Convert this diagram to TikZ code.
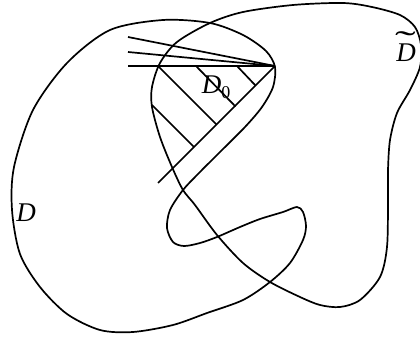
\documentclass[tikz,border=0pt]{standalone}
\usepackage{fontspec}
\usepackage{graphicx}
\setmainfont{Liberation Serif}
\begin{document}
\begin{tikzpicture}[x=1pt,y=-1pt,
  curve/.style={line width=1.7pt,line join=round},
  ray/.style={line width=1.7pt},
  lbl/.style={font=\fontsize{27}{30}\selectfont\itshape,inner sep=0pt}]
\useasboundingbox (0,0) rectangle (420,337);
\clip (0,0) rectangle (420,337);
% region D
\draw[curve] plot[smooth cycle,tension=0.5] coordinates {
 (163,20) (210,23) (243,35) (266,51) (275,67) (273,87) (262,107)
 (245,127) (220,152) (198,174) (183,190) (170,210) (167,228) (173,242)
 (184,246) (200,243) (217,237) (240,227) (260,219) (283,212) (297,207)
 (303,212) (306,226) (303,240) (290,263) (270,282) (243,300) (207,313)
 (173,325) (133,332) (100,330) (67,314) (40,287) (20,254) (12,210)
 (14,167) (33,110) (67,63) (110,30)};
% region D tilde
\draw[curve] plot[smooth cycle,tension=0.5] coordinates {
 (210,23) (243,12) (293,5) (343,3) (372,7) (400,15) (415,27) (421,45)
 (420,67) (410,90) (397,113) (390,140) (388,170) (388,200) (387,247)
 (380,277) (360,300) (340,307) (320,305) (300,297) (270,282) (243,263)
 (217,235) (195,205) (183,190) (172,167) (160,137) (152,107) (152,87)
 (160,63) (177,42)};
% rays
\coordinate (A) at (275,66);
\coordinate (r1) at (128,37);
\coordinate (r2) at (128,52);
\coordinate (r3) at (128,66);
\coordinate (e) at (158,183);
\draw[ray] (A) -- (r1);
\draw[ray] (A) -- (r2);
\draw[ray] (A) -- (r3);
\draw[ray] (A) -- (e);
% hatching
\coordinate (h1a) at (237,66); \coordinate (h1b) at (255.5,85.5);
\coordinate (h2a) at (196,66); \coordinate (h2b) at (235.5,106.5);
\coordinate (h3a) at (158,66); \coordinate (h3b) at (216.5,124.5);
\coordinate (h4a) at (152,105); \coordinate (h4b) at (194,147);
\draw[ray] (h1a) -- (h1b);
\draw[ray] (h2a) -- (h2b);
\draw[ray] (h3a) -- (h3b);
\draw[ray] (h4a) -- (h4b);
% labels
\node[lbl] (D) at (26,213) {D};
\node[lbl] (D0) at (216,87) {D\raisebox{-5pt}{\upshape\fontsize{18}{18}\selectfont 0}};
\node[lbl,anchor=base] (Dt) at (406,61) {D\llap{\raisebox{8pt}{\scalebox{2.3}[1.2]{\upshape\char"02DC}}\kern0pt}};
\end{tikzpicture}
\end{document}
